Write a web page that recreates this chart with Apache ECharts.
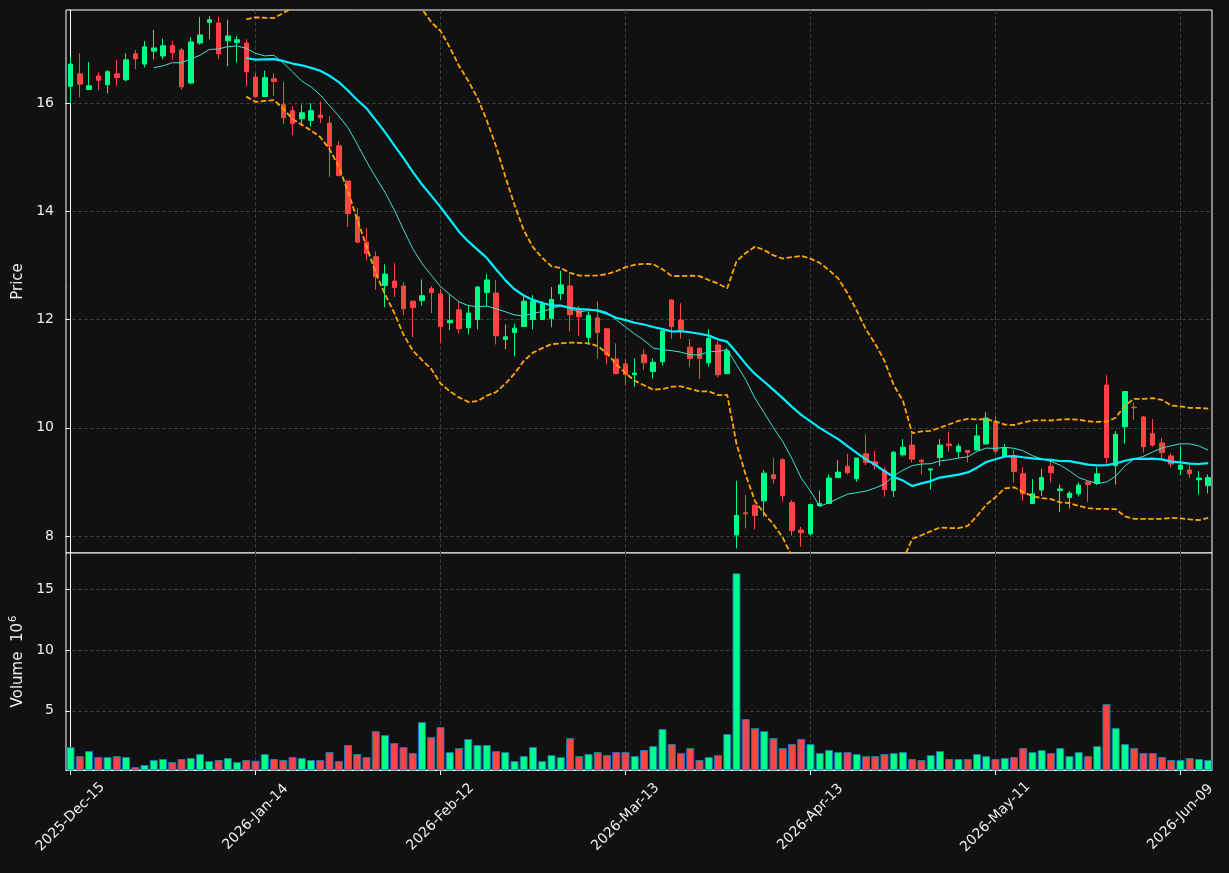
<!DOCTYPE html>
<html>
<head>
<meta charset="utf-8">
<script src="https://cdn.jsdelivr.net/npm/echarts@6/dist/echarts.min.js"></script>
<style>
  html, body { margin: 0; padding: 0; background: #111111; }
  #chart { width: 1229px; height: 873px; }
</style>
</head>
<body>
<div id="chart"></div>
<script>
// trading calendar: weekdays minus exchange holidays
const startDate = '2025-12-15'
const barCount = 124
const holidays = ['2025-12-25', '2026-01-01', '2026-01-19', '2026-02-16', '2026-04-03', '2026-05-25']
const tickIdx = [0, 20, 40, 60, 80, 100, 120]
const priceTicks = [8, 10, 12, 14, 16]
const volumeTicks = [5, 10, 15]

// OHLC
const opens = [
  16.31, 16.54, 16.25, 16.50, 16.34, 16.54, 16.43, 16.91, 16.72, 16.96,
  16.87, 17.06, 16.98, 16.37, 17.11, 17.49, 17.48, 17.15, 17.12, 17.11,
  16.48, 16.12, 16.45, 15.97, 15.86, 15.71, 15.68, 15.78, 15.63, 15.21,
  14.56, 13.90, 13.43, 13.16, 12.63, 12.71, 12.62, 12.34, 12.35, 12.57,
  12.47, 11.94, 12.18, 11.85, 12.00, 12.50, 12.49, 11.63, 11.76, 11.87,
  12.00, 12.00, 12.02, 12.48, 12.62, 12.18, 11.67, 12.03, 11.83, 11.27,
  11.18, 10.98, 11.35, 11.04, 11.22, 12.36, 11.99, 11.49, 11.47, 11.20,
  11.53, 11.00, 8.02, 8.43, 8.57, 8.65, 9.13, 9.41, 8.62, 8.11,
  8.04, 8.56, 8.60, 9.08, 9.29, 9.06, 9.52, 9.37, 9.21, 8.84,
  9.50, 9.68, 9.40, 9.22, 9.45, 9.70, 9.56, 9.58, 9.59, 9.70,
  10.12, 9.48, 9.48, 9.15, 8.60, 8.85, 9.29, 8.84, 8.71, 8.78,
  9.00, 8.97, 10.79, 9.30, 10.02, 10.38, 10.20, 9.89, 9.72, 9.48,
  9.23, 9.22, 9.04, 8.93
]
const highs = [
  16.84, 16.92, 16.76, 16.57, 16.61, 16.80, 16.92, 16.98, 17.15, 17.35,
  17.19, 17.15, 17.02, 17.22, 17.59, 17.61, 17.60, 17.54, 17.24, 17.18,
  16.55, 16.60, 16.55, 16.39, 15.94, 15.97, 16.00, 16.03, 15.76, 15.30,
  14.56, 14.06, 13.69, 13.26, 13.02, 13.04, 12.69, 12.34, 12.74, 12.62,
  12.56, 12.47, 12.34, 12.26, 12.62, 12.84, 12.73, 11.91, 11.92, 12.42,
  12.45, 12.34, 12.60, 12.90, 12.84, 12.25, 12.15, 12.34, 11.83, 11.56,
  11.27, 11.28, 11.45, 11.28, 11.84, 12.38, 12.30, 11.64, 11.49, 11.82,
  11.60, 11.47, 9.02, 8.76, 8.57, 9.22, 9.44, 9.44, 8.67, 8.17,
  8.58, 8.84, 9.14, 9.40, 9.52, 9.44, 9.88, 9.57, 9.27, 9.57,
  9.79, 9.88, 9.42, 9.25, 9.79, 9.93, 9.71, 9.58, 10.06, 10.29,
  10.21, 9.70, 9.59, 9.27, 9.05, 9.24, 9.39, 8.95, 8.83, 8.99,
  9.00, 9.27, 10.97, 9.94, 10.67, 10.46, 10.22, 10.16, 9.81, 9.53,
  9.66, 9.32, 9.20, 9.14
]
const lows = [
  15.98, 16.11, 16.25, 16.24, 16.18, 16.32, 16.40, 16.63, 16.66, 16.81,
  16.81, 16.80, 16.25, 16.35, 17.08, 17.18, 16.81, 16.68, 16.75, 16.31,
  16.10, 16.11, 16.13, 15.61, 15.41, 15.58, 15.57, 15.63, 14.64, 14.66,
  13.71, 13.41, 13.09, 12.55, 12.23, 12.42, 12.08, 11.67, 12.26, 12.12,
  11.57, 11.81, 11.74, 11.73, 11.82, 12.25, 11.54, 11.45, 11.32, 11.87,
  11.82, 12.00, 11.86, 12.36, 11.78, 11.70, 11.53, 11.28, 11.17, 11.00,
  10.79, 10.76, 11.07, 10.91, 11.15, 11.64, 11.64, 11.13, 10.90, 11.13,
  10.93, 11.00, 7.77, 8.14, 8.12, 8.36, 8.97, 8.64, 8.01, 7.80,
  8.01, 8.55, 8.60, 9.08, 9.14, 9.00, 9.31, 9.23, 8.73, 8.72,
  9.47, 9.36, 9.14, 8.86, 9.29, 9.56, 9.44, 9.36, 9.59, 9.70,
  9.52, 9.44, 8.99, 8.65, 8.60, 8.74, 8.99, 8.44, 8.51, 8.73,
  8.63, 8.94, 9.34, 8.95, 9.71, 10.14, 9.54, 9.65, 9.44, 9.27,
  9.13, 9.07, 8.77, 8.79
]
const closes = [
  16.72, 16.35, 16.32, 16.42, 16.58, 16.47, 16.80, 16.82, 17.04, 17.02,
  17.06, 16.93, 16.30, 17.13, 17.26, 17.54, 16.91, 17.24, 17.17, 16.58,
  16.12, 16.47, 16.40, 15.73, 15.62, 15.82, 15.86, 15.73, 15.20, 14.66,
  13.96, 13.43, 13.22, 12.79, 12.84, 12.59, 12.20, 12.22, 12.44, 12.50,
  11.87, 11.98, 11.83, 12.12, 12.60, 12.73, 11.70, 11.68, 11.84, 12.34,
  12.34, 12.29, 12.37, 12.64, 12.09, 12.05, 12.08, 11.76, 11.35, 11.00,
  10.98, 11.01, 11.20, 11.21, 11.79, 11.87, 11.81, 11.28, 11.28, 11.65,
  10.98, 11.42, 8.38, 8.41, 8.38, 9.16, 9.06, 8.75, 8.10, 8.06,
  8.58, 8.60, 9.07, 9.18, 9.17, 9.44, 9.36, 9.31, 8.86, 9.55,
  9.64, 9.42, 9.37, 9.24, 9.68, 9.67, 9.66, 9.54, 9.85, 10.18,
  9.57, 9.63, 9.19, 8.78, 8.78, 9.08, 9.17, 8.87, 8.79, 8.94,
  8.95, 9.15, 9.45, 9.88, 10.67, 10.37, 9.65, 9.68, 9.54, 9.33,
  9.31, 9.15, 9.07, 9.08
]
// volume, millions
const volumes = [
  2.02, 1.28, 1.69, 1.20, 1.20, 1.28, 1.20, 0.38, 0.55, 0.96,
  1.04, 0.79, 1.04, 1.12, 1.45, 0.87, 0.96, 1.12, 0.79, 0.96,
  0.90, 1.45, 1.04, 0.96, 1.20, 1.12, 0.96, 0.96, 1.61, 0.87,
  2.19, 1.45, 1.20, 3.33, 3.00, 2.35, 2.02, 1.53, 4.07, 2.84,
  3.66, 1.61, 1.94, 2.68, 2.19, 2.19, 1.69, 1.61, 0.87, 1.28,
  2.02, 0.87, 1.36, 1.20, 2.76, 1.28, 1.45, 1.61, 1.36, 1.61,
  1.61, 1.28, 1.78, 2.10, 3.50, 2.27, 1.53, 1.94, 0.96, 1.20,
  1.36, 3.09, 16.28, 4.32, 3.58, 3.33, 2.76, 1.94, 2.27, 2.68,
  2.27, 1.53, 1.78, 1.61, 1.61, 1.45, 1.28, 1.28, 1.45, 1.53,
  1.61, 1.04, 0.96, 1.36, 1.69, 1.04, 1.04, 1.04, 1.45, 1.28,
  1.04, 1.12, 1.20, 1.94, 1.61, 1.78, 1.53, 1.94, 1.28, 1.61,
  1.28, 2.10, 5.55, 3.58, 2.27, 1.94, 1.53, 1.53, 1.20, 0.96,
  0.96, 1.12, 1.04, 0.96
]

const UP = '#00ff88'
const DOWN = '#ff4444'
const FONT = 'DejaVu Sans'
const TEXT = '#eeeeee'
const GRIDLINE = '#3a3a3a'

const MONTHS = ['Jan', 'Feb', 'Mar', 'Apr', 'May', 'Jun', 'Jul', 'Aug', 'Sep', 'Oct', 'Nov', 'Dec']

function tradingDays() {
  const out = []
  const d = new Date(startDate + 'T00:00:00Z')
  while (out.length < barCount) {
    const iso = d.toISOString().slice(0, 10)
    const wd = d.getUTCDay()
    if (wd !== 0 && wd !== 6 && !holidays.includes(iso)) {
      out.push(d.getUTCFullYear() + '-' + MONTHS[d.getUTCMonth()] + '-' + String(d.getUTCDate()).padStart(2, '0'))
    }
    d.setUTCDate(d.getUTCDate() + 1)
  }
  return out
}
const dates = tradingDays()

// moving average of closes
function sma(n) {
  return closes.map((_, i) => {
    if (i < n - 1) return [i, null]
    let s = 0
    for (let k = i - n + 1; k <= i; k++) s += closes[k]
    return [i, s / n]
  })
}
// rolling sample std band around the 20 average
function band(n, k, sign) {
  return closes.map((_, i) => {
    if (i < n - 1) return [i, null]
    let s = 0
    for (let j = i - n + 1; j <= i; j++) s += closes[j]
    const m = s / n
    let v = 0
    for (let j = i - n + 1; j <= i; j++) v += (closes[j] - m) ** 2
    return [i, m + sign * k * Math.sqrt(v / (n - 1))]
  })
}

const candles = opens.map((o, i) => [i, o, closes[i], lows[i], highs[i]])
const volBars = volumes.map((v, i) => ({
  value: [i, v],
  itemStyle: { color: closes[i] >= opens[i] ? UP : DOWN }
}))

const xMin = -0.49
const xMax = 123.41

const chart = echarts.init(document.getElementById('chart'))

const axisText = { color: TEXT, fontFamily: FONT, fontSize: 14 }
const nameText = { color: TEXT, fontFamily: FONT, fontSize: 15 }
const dashed = { show: true, lineStyle: { color: GRIDLINE, type: 'dashed', width: 1 } }

chart.setOption({
  backgroundColor: '#111111',
  animation: false,
  textStyle: { fontFamily: FONT },
  grid: [
    { left: 66, right: 17, top: 10, height: 543, show: true, borderColor: '#ffffff', borderWidth: 1, backgroundColor: '#111111' },
    { left: 66, right: 17, top: 553, height: 217, show: true, borderColor: '#ffffff', borderWidth: 1, backgroundColor: '#111111' }
  ],
  xAxis: [
    {
      gridIndex: 0,
      type: 'value',
      min: xMin,
      max: xMax,
      splitNumber: 5,
      axisLine: { show: false },
      axisTick: { show: false, customValues: tickIdx },
      axisLabel: { show: false, customValues: tickIdx },
      splitLine: dashed
    },
    {
      gridIndex: 1,
      type: 'value',
      min: xMin,
      max: xMax,
      splitNumber: 5,
      axisLine: { show: true, lineStyle: { color: '#ffffff' } },
      axisTick: { show: true, length: 5, customValues: tickIdx, lineStyle: { color: '#ffffff' } },
      axisLabel: {
        ...axisText,
        customValues: tickIdx,
        rotate: 45,
        align: 'center',
        verticalAlign: 'middle',
        margin: 47,
        formatter: (v) => (Number.isInteger(v) && dates[v]) ? dates[v] : ''
      },
      splitLine: dashed
    }
  ],
  yAxis: [
    {
      gridIndex: 0,
      type: 'value',
      min: 7.686,
      max: 17.72,
      splitNumber: 5,
      name: 'Price',
      nameLocation: 'middle',
      nameGap: 38,
      nameTextStyle: { ...nameText },
      axisLine: { show: true, lineStyle: { color: '#ffffff' } },
      axisTick: { show: true, length: 5, customValues: priceTicks, lineStyle: { color: '#ffffff' } },
      axisLabel: { ...axisText, margin: 12, customValues: priceTicks },
      splitLine: dashed
    },
    {
      gridIndex: 1,
      type: 'value',
      min: 0.14,
      max: 17.95,
      splitNumber: 4,
      name: '{a|Volume  10}{s|6}',
      nameLocation: 'middle',
      nameGap: 38,
      nameTextStyle: {
        rich: {
          a: { ...nameText },
          s: { ...nameText, fontSize: 10, verticalAlign: 'top', padding: [0, 0, 8, 1] }
        }
      },
      axisLine: { show: true, lineStyle: { color: '#ffffff' } },
      axisTick: { show: true, length: 5, customValues: volumeTicks, lineStyle: { color: '#ffffff' } },
      axisLabel: { ...axisText, margin: 12, customValues: volumeTicks },
      splitLine: dashed
    }
  ],
  series: [
    {
      name: 'OHLC',
      type: 'candlestick',
      xAxisIndex: 0,
      yAxisIndex: 0,
      barWidth: 5,
      encode: { x: 0, y: [1, 2, 3, 4] },
      itemStyle: { color: UP, color0: DOWN, borderColor: UP, borderColor0: DOWN, borderWidth: 1 },
      data: candles,
      z: 2
    },
    {
      name: 'MA10',
      type: 'line',
      xAxisIndex: 0,
      yAxisIndex: 0,
      data: sma(10),
      symbol: 'none',
      lineStyle: { color: '#40e0d0', width: 1 },
      z: 3
    },
    {
      name: 'MA20',
      type: 'line',
      xAxisIndex: 0,
      yAxisIndex: 0,
      data: sma(20),
      symbol: 'none',
      lineStyle: { color: '#00f0ff', width: 2.2 },
      z: 4
    },
    {
      name: 'Upper',
      type: 'line',
      xAxisIndex: 0,
      yAxisIndex: 0,
      data: band(20, 2, 1),
      symbol: 'none',
      lineStyle: { color: '#ffa500', width: 1.8, type: [5.5, 2.4] },
      z: 4
    },
    {
      name: 'Lower',
      type: 'line',
      xAxisIndex: 0,
      yAxisIndex: 0,
      data: band(20, 2, -1),
      symbol: 'none',
      lineStyle: { color: '#ffa500', width: 1.8, type: [5.5, 2.4] },
      z: 4
    },
    {
      name: 'Volume',
      type: 'bar',
      xAxisIndex: 1,
      yAxisIndex: 1,
      barWidth: 8,
      itemStyle: { borderColor: '#1f77b4', borderWidth: 1 },
      data: volBars
    }
  ]
})
</script>
</body>
</html>
